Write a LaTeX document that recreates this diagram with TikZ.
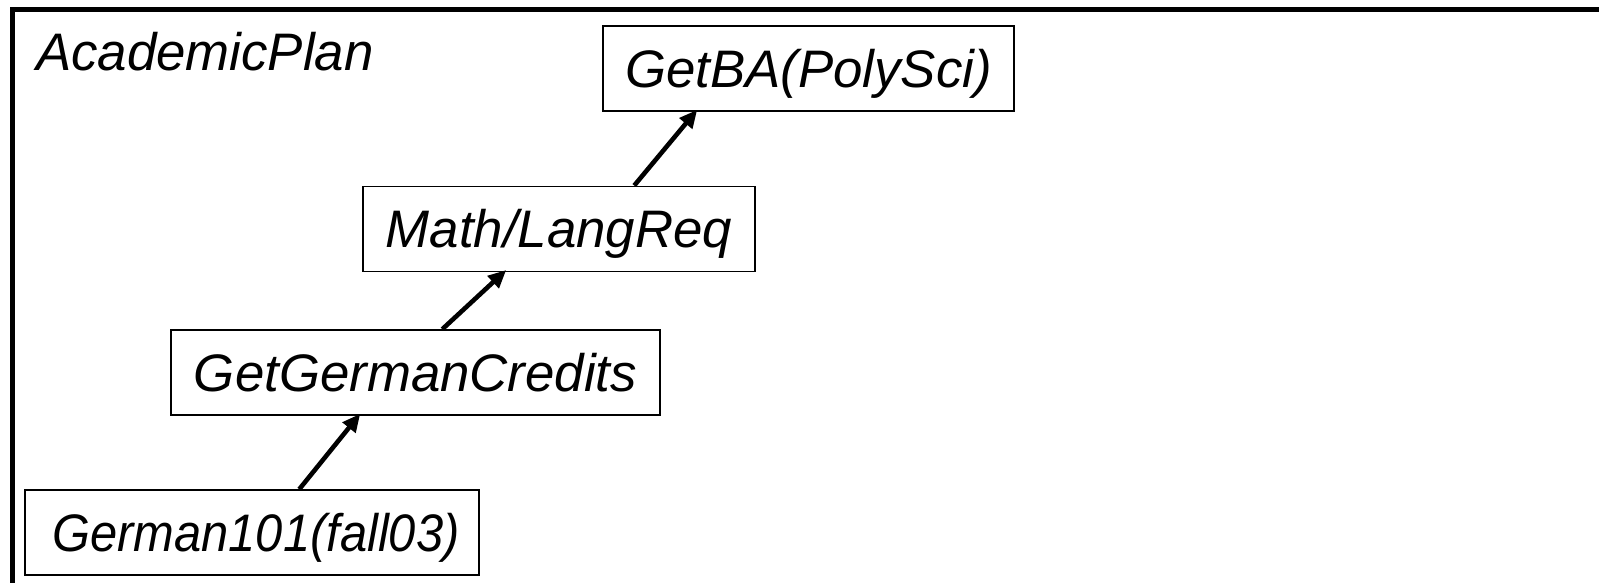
\documentclass[tikz,border=0pt]{standalone}
\usepackage{fontspec}
\setmainfont{Liberation Sans}
\usetikzlibrary{arrows.meta}
\tikzset{
  lbl/.style={font=\fontsize{52.8}{60}\selectfont\itshape, text height=37.8pt, text depth=0pt, inner sep=0pt},
  box/.style={lbl, draw, line width=1.5pt, minimum height=85pt},
  arr/.style={line width=4.6pt, -{Triangle[length=18pt,width=16pt]}},
  frame/.style={line width=5pt, line join=miter}
}
\begin{document}
\begin{tikzpicture}[x=1pt,y=-1pt]
\useasboundingbox (0,0) rectangle (1599,582);
\clip (0,0) rectangle (1599,582);
\fill[white] (0,0) rectangle (1599,582);
\coordinate (fb) at (12.5,600);
\coordinate (fc) at (12.5,9.5);
\coordinate (fr) at (1620,9.5);
\draw[frame] (fb) -- (fc) -- (fr);
\node[lbl, anchor=base west] (title) at (36,70) {AcademicPlan};
\node[box, minimum width=411pt] (ba) at (808.5,68.5) {GetBA(PolySci)};
\node[box, minimum width=392pt] (ml) at (559,228.75) {Math/LangReq};
\node[box, minimum width=489pt] (gc) at (415.5,372.5) {GetGermanCredits};
\node[box, minimum width=454pt] (g1) at (252,532.5) {\hspace*{8pt}\scalebox{0.925}[1]{German101(fall03)}};
\draw[arr] ([xshift=275pt]g1.north west) -- ([xshift=190pt,yshift=2pt]gc.south west);
\draw[arr] ([xshift=272pt]gc.north west) -- ([xshift=144pt,yshift=2pt]ml.south west);
\draw[arr] ([xshift=272pt]ml.north west) -- ([xshift=95pt,yshift=2pt]ba.south west);
\end{tikzpicture}
\end{document}
